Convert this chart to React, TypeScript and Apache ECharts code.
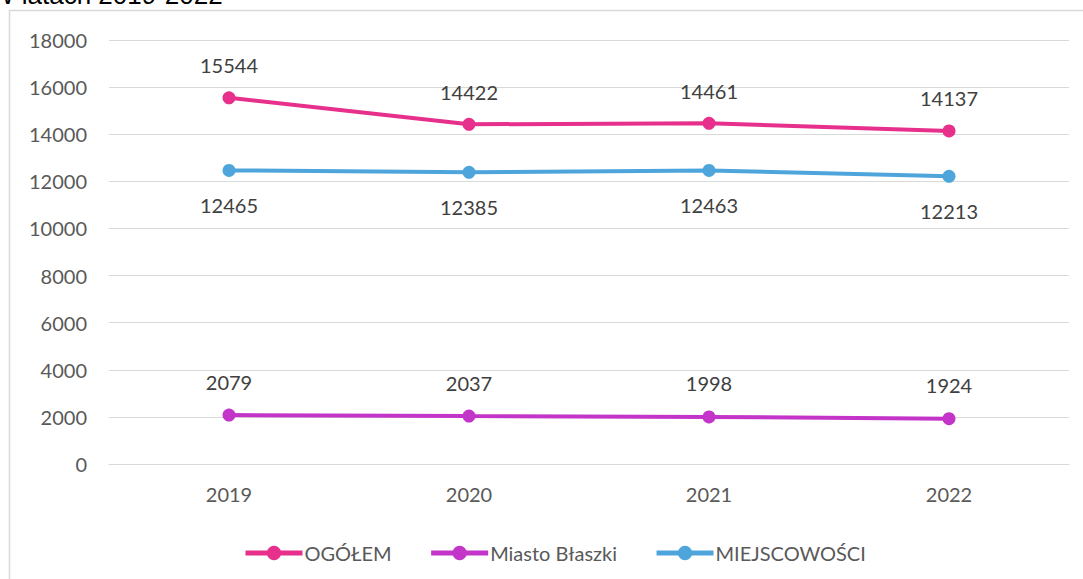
import React, { useEffect, useRef } from "react";
import * as echarts from "echarts";

const years = ["2019", "2020", "2021", "2022"];
const ogolem = [15544, 14422, 14461, 14137];
const miasto = [2079, 2037, 1998, 1924];
const miejscowosci = [12465, 12385, 12463, 12213];
const seriesNames = ["OGÓŁEM", "Miasto Błaszki", "MIEJSCOWOŚCI"];
const titleText = "W latach 2019-2022";

const FONT = "Lato, 'Noto Sans', sans-serif";

export default function App() {
  const ref = useRef<HTMLDivElement>(null);
  useEffect(() => {
    if (!ref.current) return;
    const chart = echarts.init(ref.current, undefined, { renderer: "svg" });
    const mk = (name: string, data: number[], color: string, pos: string, dist: number) => ({
      name,
      type: "line",
      data,
      symbol: "circle",
      symbolSize: 13,
      lineStyle: { width: 4, color },
      itemStyle: { color },
      label: {
        show: true,
        position: pos,
        distance: dist,
        fontSize: 20,
        fontFamily: FONT,
        color: "#404040",
      },
    });
    chart.setOption({
      animation: false,
      backgroundColor: "#ffffff",
      graphic: [
        {
          type: "rect",
          shape: { x: 9.5, y: 10.5, width: 1200, height: 700 },
          style: { fill: "none", stroke: "#d9d9d9", lineWidth: 1.5 },
          z: -10,
        },
        {
          type: "text",
          x: -10,
          y: 8,
          style: {
            text: titleText,
            fontSize: 26,
            fontFamily: "'Liberation Sans', Arial, sans-serif",
            fill: "#000000",
            verticalAlign: "bottom",
          },
        },
      ],
      grid: { left: 109, right: 14, top: 40, bottom: 115, containLabel: false },
      xAxis: {
        type: "category",
        data: years,
        boundaryGap: true,
        axisLine: { show: true, lineStyle: { color: "#d9d9d9", width: 1 } },
        axisTick: { show: false },
        axisLabel: { fontSize: 20, fontFamily: FONT, color: "#595959", margin: 20 },
      },
      yAxis: {
        type: "value",
        min: 0,
        max: 18000,
        interval: 2000,
        axisLine: { show: false },
        axisTick: { show: false },
        splitLine: { lineStyle: { color: "#d9d9d9", width: 1 } },
        axisLabel: {
          fontSize: 20,
          fontFamily: FONT,
          color: "#595959",
          margin: 22,
          formatter: (v: number) => String(v),
        },
      },
      legend: {
        data: seriesNames,
        top: 538,
        left: 238,
        itemWidth: 57,
        itemHeight: 18,
        itemGap: 37,
        lineStyle: { width: 5 },
        textStyle: { fontSize: 20, fontFamily: FONT, color: "#595959", padding: [0, 0, 0, -3] },
      },
      series: [
        mk(seriesNames[0], ogolem, "#e6308c", "top", 16),
        mk(seriesNames[1], miasto, "#c334c8", "top", 17),
        mk(seriesNames[2], miejscowosci, "#4ea5dc", "bottom", 18),
      ],
    });
    return () => chart.dispose();
  }, []);
  return (
    <div
      ref={ref}
      style={{ position: "fixed", left: 0, top: 0, width: 1083, height: 579 }}
    />
  );
}
